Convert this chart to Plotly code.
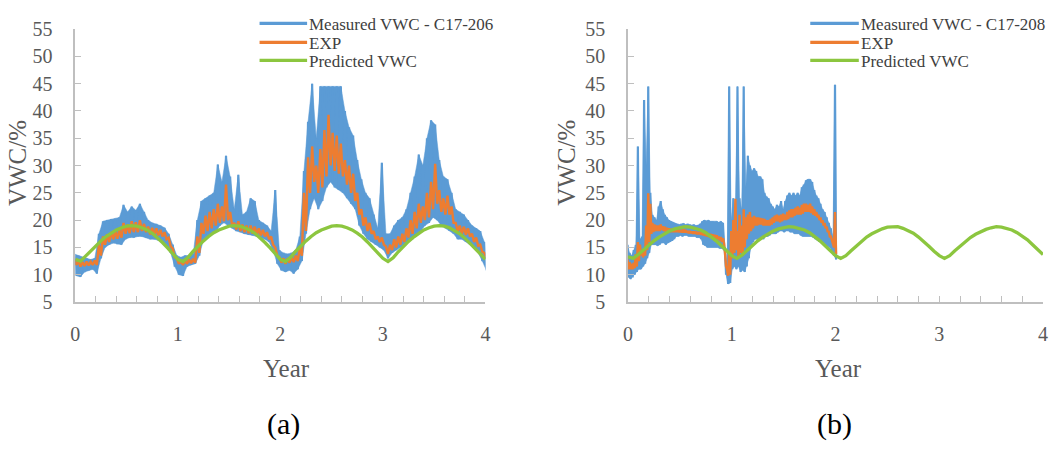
import numpy as np
import plotly.graph_objects as go

# ---------------- Panel (a): sensor C17-206, one reading per 0.04 year ----------------
meas_a_hi = [
    13.8, 13.5, 13.2, 13.0, 12.8,
    13.0, 17.5, 19.8, 20.0, 20.2,
    20.3, 20.5, 22.8, 21.5, 22.5,
    21.8, 23.0, 21.5, 20.0, 19.5,
    19.3, 19.0, 18.6, 17.5, 15.5,
    13.5, 13.2, 13.5, 13.5, 13.8,
    20.0, 23.5, 24.0, 24.5, 25.0,
    30.2, 27.0, 31.8, 28.0, 22.0,
    28.3, 21.0, 21.5, 24.0, 23.5,
    20.0, 19.5, 19.0, 18.0, 25.5,
    14.5, 14.0, 13.8, 14.0, 14.5,
    17.0, 29.0, 38.0, 45.0, 35.0,
    44.5, 44.5, 44.5, 44.5, 44.5,
    44.5, 40.0, 37.0, 35.5, 31.0,
    27.5, 25.0, 24.0, 21.0, 18.5,
    30.5, 17.5, 17.5, 19.0, 20.0,
    20.5, 22.0, 25.0, 28.0, 32.0,
    30.0, 35.0, 38.3, 37.5, 31.0,
    28.0, 27.5, 25.0, 22.0, 21.5,
    21.0, 20.0, 19.0, 18.5, 18.0,
    16.0,
]
meas_a_lo = [
    9.8, 9.6, 10.5, 10.8, 11.0,
    10.2, 13.0, 15.0, 15.5, 15.8,
    15.6, 15.5, 16.5, 16.8, 16.8,
    17.0, 17.0, 16.8, 16.5, 16.5,
    16.3, 16.0, 15.5, 14.0, 11.5,
    10.0, 9.8, 11.5, 11.8, 12.0,
    13.5, 16.5, 17.0, 17.5, 17.8,
    19.0, 19.5, 19.0, 18.5, 18.0,
    17.8, 17.5, 17.3, 17.2, 17.0,
    16.8, 16.5, 16.0, 14.5, 12.0,
    10.8, 10.5, 10.8, 10.2, 11.0,
    12.5, 17.5, 22.0, 24.0, 22.0,
    23.5, 26.0, 27.0, 26.0, 25.5,
    25.0, 24.0, 23.0, 22.0, 19.0,
    17.5, 16.5, 16.0, 15.5, 15.0,
    14.5, 13.0, 14.0, 14.5, 15.0,
    15.5, 16.0, 16.5, 17.5, 18.0,
    19.0, 19.5, 20.5, 20.0, 19.0,
    18.5, 18.0, 17.5, 16.5, 16.5,
    16.0, 15.5, 15.0, 14.0, 12.5,
    10.8,
]
exp_a_hi = [
    12.8, 12.5, 12.3, 12.4, 12.4,
    12.6, 15.5, 17.0, 17.4, 17.8,
    18.0, 18.2, 19.5, 19.2, 19.8,
    19.6, 20.0, 19.3, 18.8, 18.6,
    18.5, 18.2, 17.8, 16.8, 14.8,
    13.0, 12.5, 12.6, 12.8, 12.9,
    17.0, 19.5, 20.8, 21.5, 22.0,
    23.0, 22.5, 26.5, 21.5, 19.5,
    19.8, 19.2, 19.0, 19.0, 18.8,
    18.5, 18.2, 17.8, 17.0, 15.0,
    13.2, 13.0, 13.0, 13.2, 13.5,
    15.0, 25.0, 31.5, 33.5, 30.0,
    33.0, 36.5, 39.3, 36.0, 35.5,
    34.0, 31.0, 30.0, 28.5, 25.0,
    22.0, 20.5, 19.5, 18.0, 17.0,
    16.8, 15.2, 15.5, 16.5, 17.0,
    17.5, 18.5, 20.0, 21.5, 23.0,
    22.5, 25.0, 27.0, 30.3, 25.5,
    24.0, 24.5, 22.5, 19.5, 19.0,
    18.8, 18.5, 17.5, 16.8, 15.5,
    14.0,
]
exp_a_lo = [
    11.8, 11.5, 11.6, 11.7, 11.8,
    11.8, 13.5, 15.5, 16.0, 16.5,
    16.6, 16.8, 17.5, 17.6, 17.8,
    17.8, 18.0, 17.8, 17.4, 17.3,
    17.2, 17.0, 16.5, 15.2, 13.2,
    12.0, 11.8, 12.0, 12.1, 12.2,
    14.0, 17.5, 18.0, 18.5, 19.0,
    19.5, 19.8, 20.0, 19.0, 18.3,
    18.0, 17.8, 17.6, 17.5, 17.3,
    17.2, 17.0, 16.5, 15.5, 13.5,
    12.2, 12.0, 12.2, 12.3, 12.5,
    13.5, 18.0, 25.0, 27.0, 25.0,
    26.0, 28.0, 30.0, 29.0, 28.5,
    28.0, 26.5, 25.0, 23.5, 21.0,
    19.0, 18.0, 17.5, 16.5, 16.0,
    15.5, 13.8, 14.5, 15.0, 15.5,
    16.0, 16.8, 17.5, 18.5, 19.5,
    20.0, 20.5, 22.0, 23.0, 21.5,
    21.0, 21.0, 19.5, 18.0, 17.5,
    17.3, 17.0, 16.0, 15.3, 14.2,
    13.0,
]

# ---------------- Panel (b): sensor C17-208, one reading per 0.02 year (two years) ----------------
meas_b_hi = [
    15.5, 14.0, 13.5, 14.5, 15.5, 33.5, 16.5, 17.0, 42.0, 30.0,
    44.5, 25.0, 21.0, 20.5, 20.0, 22.5, 23.5, 22.0, 21.0, 20.5,
    20.0, 19.8, 19.6, 19.4, 19.3, 19.2, 19.3, 19.4, 19.2, 19.3,
    19.2, 19.1, 19.2, 19.0, 19.1, 19.3, 19.8, 20.0, 19.9, 20.0,
    19.8, 19.8, 19.7, 19.8, 19.6, 19.8, 19.5, 15.0, 11.0, 44.5,
    20.0, 24.0, 22.0, 44.5, 24.0, 22.0, 44.5, 26.0, 31.8, 30.0,
    29.0, 29.5, 29.0, 28.0, 28.0, 27.5, 25.0, 24.3, 24.0, 23.0,
    22.5, 22.0, 22.8, 22.5, 23.5, 22.0, 23.5, 24.5, 25.0, 24.5,
    25.0, 24.5, 25.0, 24.5, 26.0, 26.5, 27.3, 27.5, 27.5, 27.0,
    25.5, 24.5, 24.0, 23.0, 22.0, 21.5, 20.5, 19.5, 18.5, 17.0,
    44.8,
]
meas_b_lo = [
    9.5, 9.2, 9.5, 10.0, 10.5, 11.0, 11.0, 11.5, 12.0, 13.0,
    14.0, 15.5, 15.5, 15.5, 15.3, 15.5, 15.8, 15.8, 15.5, 15.8,
    16.0, 16.2, 16.5, 17.0, 17.0, 17.2, 17.0, 17.2, 17.2, 17.0,
    17.0, 17.0, 17.0, 16.8, 16.8, 16.5, 15.5, 15.3, 15.0, 15.0,
    15.0, 15.0, 15.0, 15.0, 14.8, 14.8, 14.5, 10.0, 8.3, 8.5,
    11.0, 11.5, 11.0, 11.5, 10.5, 10.8, 10.5, 11.5, 13.0, 15.0,
    16.0, 16.5, 16.5, 16.5, 16.8, 16.5, 17.0, 17.0, 17.2, 17.5,
    17.5, 17.5, 17.8, 18.0, 18.0, 17.8, 18.0, 18.0, 17.8, 17.8,
    17.5, 17.5, 17.5, 17.2, 17.0, 17.0, 17.0, 17.0, 17.0, 16.8,
    16.5, 16.3, 16.0, 16.0, 15.8, 15.5, 15.2, 15.0, 14.5, 13.5,
    12.8,
]
exp_b_hi = [
    12.8, 12.3, 12.0, 12.2, 13.8, 16.0, 15.5, 14.5, 14.8, 19.0,
    24.9, 23.0, 19.5, 19.2, 19.0, 19.0, 19.2, 18.9, 18.8, 18.6,
    18.5, 18.4, 18.4, 18.3, 18.3, 18.2, 18.2, 18.3, 18.2, 18.0,
    18.0, 17.9, 17.9, 17.9, 17.8, 17.8, 17.8, 17.7, 17.6, 17.5,
    17.5, 17.4, 17.3, 17.2, 17.0, 16.9, 16.7, 14.0, 11.0, 14.0,
    18.0, 20.0, 23.9, 18.0, 21.0, 19.0, 22.0, 20.5, 21.0, 21.5,
    20.5, 20.8, 20.5, 20.5, 20.4, 20.3, 20.2, 20.0, 20.0, 20.2,
    20.5, 20.8, 21.0, 20.8, 21.0, 21.2, 21.0, 21.5, 21.8, 22.0,
    22.0, 22.3, 22.5, 22.3, 22.8, 23.0, 23.0, 22.8, 23.0, 22.5,
    22.0, 21.5, 21.0, 20.5, 20.0, 19.5, 18.8, 18.0, 17.0, 16.0,
    21.5,
]
exp_b_lo = [
    11.0, 11.0, 11.0, 11.2, 11.5, 12.5, 13.5, 13.2, 13.5, 14.5,
    16.0, 17.5, 17.8, 18.0, 18.0, 18.0, 18.2, 18.0, 17.8, 17.8,
    17.8, 17.8, 17.8, 17.8, 17.8, 17.8, 17.7, 17.7, 17.7, 17.6,
    17.6, 17.5, 17.5, 17.4, 17.4, 17.3, 17.2, 17.1, 17.0, 16.9,
    16.8, 16.7, 16.6, 16.5, 16.3, 16.0, 15.8, 11.5, 9.8, 10.0,
    13.0, 14.0, 14.5, 13.0, 14.0, 13.5, 15.0, 16.5, 17.5, 18.0,
    18.5, 19.0, 19.0, 19.2, 19.2, 19.0, 19.0, 19.0, 19.0, 19.2,
    19.5, 19.8, 19.8, 19.6, 19.8, 20.0, 20.0, 20.2, 20.5, 20.5,
    20.8, 21.0, 21.0, 21.0, 21.2, 21.5, 21.5, 21.5, 21.3, 21.0,
    20.8, 20.5, 20.0, 19.5, 19.0, 18.5, 17.8, 17.0, 16.2, 15.0,
    13.8,
]

# ---------------- Predicted VWC, every 0.05 year over four years ----------------
pred_a = [
    12.8, 12.5, 13.4, 14.4, 15.3, 16.2, 17.0, 17.6, 18.2, 18.6, 18.9, 19.0, 18.9, 18.6, 18.2, 17.6, 16.8, 15.9, 14.9, 13.8,
    12.8, 12.4, 13.2, 14.3, 15.3, 16.2, 17.0, 17.7, 18.2, 18.6, 18.9, 19.0, 18.9, 18.6, 18.2, 17.6, 16.8, 15.9, 14.9, 13.8,
    12.8, 12.4, 13.2, 14.3, 15.3, 16.2, 17.0, 17.7, 18.2, 18.6, 18.9, 19.0, 18.9, 18.6, 18.2, 17.6, 16.9, 16.0, 15.0, 14.0,
    13.0, 12.4, 13.1, 14.2, 15.2, 16.1, 16.9, 17.6, 18.2, 18.6, 18.9, 19.0, 18.9, 18.6, 18.1, 17.5, 16.7, 15.8, 14.8, 13.8,
    12.8,
]
pred_b = [
    13.3, 13.0, 13.7, 14.6, 15.4, 16.2, 16.9, 17.5, 18.0, 18.4, 18.6, 18.8, 18.7, 18.5, 18.2, 17.7, 17.0, 16.2, 15.3, 14.4,
    13.5, 13.0, 13.6, 14.5, 15.4, 16.2, 16.9, 17.5, 18.0, 18.4, 18.6, 18.8, 18.7, 18.5, 18.2, 17.7, 17.0, 16.2, 15.3, 14.4,
    13.5, 13.0, 13.5, 14.4, 15.3, 16.1, 16.9, 17.5, 18.0, 18.4, 18.7, 18.8, 18.8, 18.5, 18.1, 17.6, 16.9, 16.1, 15.2, 14.3,
    13.5, 13.0, 13.5, 14.4, 15.2, 16.0, 16.8, 17.4, 17.9, 18.3, 18.6, 18.8, 18.7, 18.5, 18.2, 17.7, 17.1, 16.4, 15.5, 14.6,
    13.7,
]

STEP_A, STEP_B, STEP_P = 0.04, 0.02, 0.05
year_a = np.arange(len(meas_a_hi)) * STEP_A
year_b = np.arange(len(meas_b_hi)) * STEP_B
year_p = np.arange(len(pred_a)) * STEP_P

BLUE, ORANGE, GREEN = "#5B9BD5", "#ED7D31", "#8CC63F"
AXIS_GREY, TEXT_GREY = "#BFBFBF", "#595959"
SERIF = "Liberation Serif"
W, H = 1051, 449


def noisy_trace(t, hi, lo, step):
    """Alternate between the high and low reading of each interval so the
    dense sensor record renders as a jagged band."""
    xs, ys = [], []
    for ti, h, l in zip(t, hi, lo):
        xs += [ti - step / 4, ti + step / 4]
        ys += [h, l]
    return xs, ys


def band_outline(t, hi, lo, step):
    """Closed outline of the high readings and, backwards, the low readings."""
    xs = [ti - step / 4 for ti in t] + [ti + step / 4 for ti in t][::-1]
    ys = list(hi) + list(lo)[::-1]
    return xs, ys


fig = go.Figure()

panels = [
    ("x", "y", year_a, meas_a_hi, meas_a_lo, exp_a_hi, exp_a_lo, STEP_A, pred_a),
    ("x2", "y2", year_b, meas_b_hi, meas_b_lo, exp_b_hi, exp_b_lo, STEP_B, pred_b),
]
for xa, ya, t, mhi, mlo, ehi, elo, step, pred in panels:
    bx, by = band_outline(t, mhi, mlo, step)
    mx, my = noisy_trace(t, mhi, mlo, step)
    ex, ey = noisy_trace(t, ehi, elo, step)
    fig.add_trace(go.Scatter(x=bx, y=by, mode="lines", xaxis=xa, yaxis=ya, fill="toself",
                             fillcolor=BLUE, line=dict(color=BLUE, width=0.5),
                             showlegend=False, hoverinfo="skip"))
    fig.add_trace(go.Scatter(x=mx, y=my, mode="lines", xaxis=xa, yaxis=ya,
                             line=dict(color=BLUE, width=2.2), showlegend=False))
    fig.add_trace(go.Scatter(x=ex, y=ey, mode="lines", xaxis=xa, yaxis=ya,
                             line=dict(color=ORANGE, width=2.4), showlegend=False))
    fig.add_trace(go.Scatter(x=year_p, y=pred, mode="lines", xaxis=xa, yaxis=ya,
                             line=dict(color=GREEN, width=3.3), showlegend=False))

tick_font = dict(family=SERIF, size=20, color=TEXT_GREY)
x_common = dict(range=[0, 4], tick0=0, dtick=1, ticks="inside", ticklen=6, tickwidth=1.3,
                tickcolor=AXIS_GREY, showline=True, linecolor=AXIS_GREY, linewidth=1.5,
                showgrid=False, zeroline=False, tickfont=tick_font, ticklabelstandoff=13,
                minor=dict(dtick=0.2, ticks="inside", ticklen=6, tickwidth=1.3,
                           tickcolor=AXIS_GREY, showgrid=False))
y_common = dict(range=[5, 55], tick0=5, dtick=5, ticks="inside", ticklen=6, tickwidth=1.3,
                tickcolor=AXIS_GREY, showline=True, linecolor=AXIS_GREY, linewidth=1.5,
                showgrid=False, zeroline=False, tickfont=tick_font, ticklabelstandoff=17)

y_dom = [1 - 306 / H, 1 - 19 / H]
fig.update_layout(
    width=W, height=H, margin=dict(l=0, r=0, t=0, b=0),
    paper_bgcolor="white", plot_bgcolor="white", showlegend=False,
    xaxis=dict(domain=[71 / W, 485 / W], anchor="y", **x_common),
    yaxis=dict(domain=y_dom, anchor="x", **y_common),
    xaxis2=dict(domain=[629 / W, 1048 / W], anchor="y2", **x_common),
    yaxis2=dict(domain=y_dom, anchor="x2", **y_common),
)

# Legend drawn as line samples plus labels at the top right of each panel
legend_rows = [(BLUE, 13), (ORANGE, 33), (GREEN, 52)]
legend_sets = [
    (257, 305, 305, ["Measured VWC - C17-206", "EXP", "Predicted VWC"]),
    (813, 862, 862, ["Measured VWC - C17-208", "EXP", "Predicted VWC"]),
]
for x0, x1, xt, labels in legend_sets:
    for (col, yy), lab in zip(legend_rows, labels):
        fig.add_shape(type="line", xref="paper", yref="paper",
                      x0=x0 / W, x1=x1 / W, y0=1 - yy / H, y1=1 - yy / H,
                      line=dict(color=col, width=3.2))
        fig.add_annotation(x=xt / W, y=1 - (yy + 1) / H, xref="paper", yref="paper",
                           text=lab, showarrow=False, xanchor="left", yanchor="middle",
                           font=dict(family=SERIF, size=17, color="#404040"))

# Axis titles and panel letters
for cx in (284, 842):
    fig.add_annotation(x=cx / W, y=1 - 376 / H, xref="paper", yref="paper", text="Year",
                       showarrow=False, xanchor="center", yanchor="middle",
                       font=dict(family=SERIF, size=25, color=TEXT_GREY))
for cx in (12, 567):
    fig.add_annotation(x=cx / W, y=1 - 160 / H, xref="paper", yref="paper", text="VWC/%",
                       textangle=-90, showarrow=False, xanchor="center", yanchor="middle",
                       font=dict(family=SERIF, size=25, color=TEXT_GREY))
for cx, letter in [(281, "(a)"), (837, "(b)")]:
    fig.add_annotation(x=cx / W, y=1 - 434 / H, xref="paper", yref="paper", text=letter,
                       showarrow=False, xanchor="center", yanchor="middle",
                       font=dict(family=SERIF, size=30, color="black"))

fig.write_html("out.html")
